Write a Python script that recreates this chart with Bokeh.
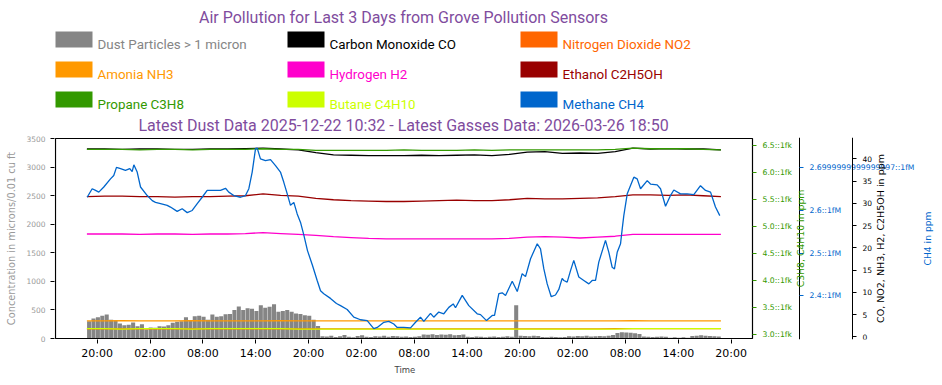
import math
from datetime import datetime, timedelta

from bokeh.plotting import figure
from bokeh.models import (Range1d, LinearAxis, FixedTicker, SingleIntervalTicker,
                          DatetimeTickFormatter, Title, Label)
from bokeh.layouts import column
from bokeh.embed import file_html
from bokeh.resources import INLINE
from bokeh.core.properties import value

# ---------------- data ----------------
title_text = "Air Pollution for Last 3 Days from Grove Pollution Sensors"
subtitle_text = "Latest Dust Data 2025-12-22 10:32 - Latest Gasses Data: 2026-03-26 18:50"

series_names = ["Dust Particles > 1 micron", "Carbon Monoxide CO", "Nitrogen Dioxide NO2",
                "Amonia NH3", "Hydrogen H2", "Ethanol C2H5OH",
                "Propane C3H8", "Butane C4H10", "Methane CH4"]
series_colors = ["#858585", "#000000", "#ff6600",
                 "#ff9900", "#ff00cc", "#990000",
                 "#339900", "#ccff00", "#0066cc"]

data_start = datetime(2026, 3, 23, 18, 50)
first_tick = datetime(2026, 3, 23, 20, 0)
tick_step_hours = 6
n_ticks = 13

# dust: 30-minute bins (hours since data_start of bin centre)
dust_hours = [0.25 + 0.5 * i for i in range(144)]
dust = [300, 350, 370, 400, 420, 330, 320, 262, 233, 240,
        280, 215, 250, 157, 192, 190, 215, 210, 230, 274,
        292, 300, 370, 320, 390, 400, 380, 330, 420, 380,
        390, 425, 430, 500, 560, 500, 530, 520, 480, 583,
        540, 554, 600, 467, 480, 500, 470, 437, 430, 408,
        400, 330, 220, 40,
        35, 50, 25, 40, 60, 30, 20, 45, 55, 30, 25, 40, 35, 50, 30, 45, 40,
        30, 35, 25, 30, 40,
        70, 65, 75,
        60, 70, 65, 75, 55, 60, 70,
        30, 25, 35, 30, 20, 30, 35, 25, 30, 40, 30,
        580,
        50, 45, 40, 50, 45,
        25, 20, 30, 25, 20, 25,
        40, 35, 45, 40, 50, 35, 40, 45, 40, 50, 60,
        95, 110, 105, 100, 90, 80,
        35, 30, 25, 30, 35, 30,
        15, 20, 15, 20, 15,
        45, 50, 55, 50, 45, 40, 35]

# gases sampled every 2 hours (hours since data_start)
gas_hours = list(range(0, 73, 2))
co = [42.2, 42.2, 42.1, 42.2, 42.2, 42.1, 42.1, 42.2, 42.2, 42.3,
      42.4, 42.2, 42.0, 41.4, 40.9, 40.8, 40.7, 40.7, 40.7, 40.8,
      40.7, 40.8, 40.9, 40.7, 41.0, 41.5, 41.6, 41.2, 41.3, 41.2,
      41.6, 42.4, 42.2, 42.3, 42.2, 42.2, 42.0]
no2 = [1.80, 1.80, 1.79, 1.80, 1.80, 1.80, 1.79, 1.80, 1.80, 1.80,
       1.80, 1.80, 1.80, 1.80, 1.80, 1.79, 1.80, 1.80, 1.80, 1.80,
       1.80, 1.80, 1.80, 1.80, 1.80, 1.80, 1.80, 1.80, 1.80, 1.80,
       1.82, 1.84, 1.85, 1.85, 1.84, 1.84, 1.83]
nh3 = [3.60, 3.60, 3.61, 3.60, 3.60, 3.60, 3.61, 3.60, 3.60, 3.60,
       3.60, 3.61, 3.60, 3.60, 3.59, 3.60, 3.60, 3.60, 3.60, 3.59,
       3.60, 3.60, 3.60, 3.60, 3.60, 3.60, 3.60, 3.60, 3.60, 3.60,
       3.60, 3.61, 3.60, 3.60, 3.60, 3.60, 3.60]
h2 = [23.1, 23.1, 23.1, 23.0, 23.1, 23.1, 23.0, 23.1, 23.1, 23.2,
      23.4, 23.2, 23.0, 22.8, 22.5, 22.3, 22.1, 22.0, 22.0, 22.0,
      22.0, 22.0, 22.0, 22.0, 22.1, 22.4, 22.5, 22.4, 22.2, 22.4,
      22.6, 23.0, 23.0, 23.0, 23.0, 23.0, 23.0]
ethanol = [31.5, 31.6, 31.6, 31.5, 31.5, 31.4, 31.5, 31.5, 31.6, 31.7,
           32.1, 31.8, 31.6, 31.1, 30.8, 30.6, 30.5, 30.4, 30.4, 30.5,
           30.6, 30.7, 30.6, 30.6, 30.8, 31.1, 31.0, 31.0, 31.1, 31.2,
           31.5, 31.9, 31.9, 31.8, 31.9, 31.7, 31.5]
propane = [6.43, 6.43, 6.43, 6.42, 6.43, 6.43, 6.42, 6.43, 6.43, 6.43,
           6.44, 6.43, 6.43, 6.41, 6.41, 6.41, 6.41, 6.41, 6.42, 6.41,
           6.41, 6.41, 6.42, 6.41, 6.42, 6.42, 6.42, 6.42, 6.42, 6.42,
           6.43, 6.45, 6.44, 6.44, 6.44, 6.43, 6.42]
butane = [3.11, 3.11, 3.10, 3.11, 3.11, 3.11, 3.10, 3.11, 3.11, 3.11,
          3.11, 3.11, 3.10, 3.10, 3.10, 3.10, 3.10, 3.10, 3.10, 3.10,
          3.10, 3.10, 3.10, 3.10, 3.10, 3.10, 3.10, 3.10, 3.10, 3.10,
          3.10, 3.11, 3.11, 3.11, 3.11, 3.11, 3.11]

ch4_hours = [0.03, 0.60, 0.98, 1.35, 1.92, 2.68, 3.05, 3.36, 3.82, 4.38,
             4.87, 5.14, 5.33, 5.71, 6.09, 6.85, 7.42, 7.79, 8.36, 9.12,
             9.49, 10.25, 10.82, 11.39, 11.96, 12.53, 13.09, 13.66, 14.41, 15.17,
             15.74, 16.11, 16.68, 17.44, 18.01, 18.39, 18.77, 19.15, 19.34, 19.71,
             20.28, 20.85, 21.42, 21.98, 22.36, 22.75, 23.12, 23.50, 23.88, 24.26,
             24.63, 25.05, 25.62, 26.15, 26.53, 26.90, 27.66, 28.34, 28.80, 29.56,
             30.31, 31.07, 31.83, 32.58, 32.97, 33.72, 34.28, 34.85, 35.24, 35.99,
             36.75, 37.32, 37.88, 38.26, 39.02, 39.39, 39.96, 40.53, 41.10, 41.60,
             41.86, 42.62, 43.37, 44.32, 44.70, 45.38, 46.03, 46.29, 46.78, 47.16,
             47.54, 48.30, 48.87, 49.43, 49.81, 50.38, 51.14, 51.51, 51.89, 52.27,
             52.73, 53.21, 53.59, 53.97, 54.16, 54.54, 54.92, 55.29, 55.86, 56.43,
             57.00, 57.38, 57.76, 58.13, 58.89, 59.27, 59.65, 59.91, 60.22, 60.60,
             60.79, 60.97, 61.36, 62.11, 62.49, 62.87, 63.63, 64.00, 64.76, 65.14,
             65.71, 66.27, 66.65, 67.41, 68.17, 68.92, 69.68, 70.25, 70.82, 71.38,
             71.87]
ch4 = [2.631, 2.651, 2.647, 2.643, 2.655, 2.674, 2.682, 2.701, 2.698, 2.694,
       2.698, 2.691, 2.707, 2.690, 2.655, 2.635, 2.623, 2.619, 2.616, 2.612,
       2.608, 2.598, 2.604, 2.595, 2.600, 2.616, 2.631, 2.647, 2.647, 2.647,
       2.652, 2.643, 2.635, 2.631, 2.635, 2.651, 2.690, 2.745, 2.746, 2.721,
       2.717, 2.719, 2.705, 2.690, 2.666, 2.639, 2.612, 2.619, 2.592, 2.572,
       2.543, 2.506, 2.471, 2.436, 2.412, 2.405, 2.394, 2.382, 2.377, 2.368,
       2.350, 2.344, 2.342, 2.323, 2.326, 2.338, 2.340, 2.334, 2.326, 2.326,
       2.325, 2.338, 2.350, 2.340, 2.359, 2.350, 2.362, 2.358, 2.373, 2.381,
       2.372, 2.401, 2.377, 2.358, 2.356, 2.342, 2.354, 2.354, 2.405, 2.407,
       2.401, 2.434, 2.410, 2.452, 2.445, 2.487, 2.522, 2.510, 2.463, 2.428,
       2.398, 2.402, 2.415, 2.441, 2.436, 2.432, 2.459, 2.483, 2.444, 2.436,
       2.428, 2.436, 2.436, 2.479, 2.530, 2.502, 2.467, 2.463, 2.502, 2.522,
       2.557, 2.588, 2.639, 2.678, 2.674, 2.651, 2.670, 2.662, 2.660, 2.651,
       2.610, 2.635, 2.648, 2.639, 2.639, 2.637, 2.658, 2.647, 2.643, 2.608,
       2.588]

left_ticks_interval = 500
green_ticks = [3.0, 3.5, 4.0, 4.5, 5.0, 5.5, 6.0, 6.5]
green_labels = ["3.0::1fk", "3.5::1fk", "4.0::1fk", "4.5::1fk",
                "5.0::1fk", "5.5::1fk", "6.0::1fk", "6.5::1fk"]
blue_ticks = [2.4, 2.5, 2.6, 2.7]
blue_labels = ["2.4::1fM", "2.5::1fM", "2.6::1fM", "2.6999999999999997::1fM"]
black_ticks = [0, 5, 10, 15, 20, 25, 30, 35, 40]

green_axis_title = "C3H8, C4H10 in ppm"
blue_axis_title = "CH4 in ppm"
black_axis_title = "CO, NO2, NH3, H2, C2H5OH in ppm"

# ---------------- helpers ----------------
EPOCH = datetime(1970, 1, 1)


def ms(dt):
    return (dt - EPOCH).total_seconds() * 1000.0


def t(h):
    return data_start + timedelta(hours=h)


# ---------------- layout constants (pixels) ----------------
W = 942
TOP_H = 134
FRAME_L, FRAME_R = 54, 940          # plotting frame (extended to hold right axes)
BOX_L, BOX_R = 55, 752              # visible data box
BLUE_X, BLACK_X = 799, 852          # extra axis spines
PX_PER_HOUR = 8.806
DATA_X0 = 86.4                      # pixel of data_start
PURPLE = "#7f4c9e"


def px_time(px):
    return t((px - DATA_X0) / PX_PER_HOUR)


# ---------------- top figure: title + legend + subtitle ----------------
top = figure(width=W, height=TOP_H, x_range=Range1d(FRAME_L, FRAME_R),
             y_range=Range1d(TOP_H, 0),
             x_axis_type=None, y_axis_type=None, output_backend="svg",
             toolbar_location=None, min_border_left=FRAME_L,
             min_border_right=W - FRAME_R, min_border_top=0, min_border_bottom=0,
             outline_line_color=None)
top.grid.visible = False

top.text(x=[403], y=[16.5], text=[title_text], text_align="center",
         text_baseline="middle", text_font=value("Roboto"), text_font_size="16px",
         text_color=PURPLE)
top.text(x=[403], y=[124.5], text=[subtitle_text], text_align="center",
         text_baseline="middle", text_font=value("Roboto"), text_font_size="16px",
         text_color=PURPLE)

col_x = [55, 287, 520]
row_y = [31, 61, 91]
sq_left, sq_right, sq_top, sq_bot, tx, ty = [], [], [], [], [], []
for i, name in enumerate(series_names):
    c, r = i % 3, i // 3
    sq_left.append(col_x[c])
    sq_right.append(col_x[c] + 37)
    sq_top.append(row_y[r])
    sq_bot.append(row_y[r] + 16)
    tx.append(col_x[c] + 42)
    ty.append(row_y[r] + 13)
top.quad(left=sq_left, right=sq_right, top=sq_top, bottom=sq_bot,
         fill_color=series_colors, line_color=None)
top.text(x=tx, y=ty, text=series_names, text_color=series_colors,
         text_align="left", text_baseline="middle", text_font=value("Roboto"),
         text_font_size="13.4px")

# ---------------- main figure ----------------
p = figure(width=W, height=3 + 202 + 45, x_axis_type="datetime",
           x_range=Range1d(px_time(FRAME_L), px_time(FRAME_R)),
           y_range=Range1d(-17.5, 3517.5),
           output_backend="svg", toolbar_location=None,
           min_border_left=FRAME_L, min_border_right=W - FRAME_R,
           min_border_top=3, min_border_bottom=45)
p.grid.visible = False
p.outline_line_color = None

p.extra_y_ranges = {
    "green": Range1d(2.9075, 6.6485),
    "blue": Range1d(2.2977, 2.7710),
    "black": Range1d(-0.607, 44.785),
}

# dust bars
p.vbar(x=[t(h) for h in dust_hours], top=dust, bottom=0,
       width=0.5 * 3600 * 1000 * 0.92, fill_color=series_colors[0], line_color=None)

gx = [t(h) for h in gas_hours]
lw = 1.3
p.line(gx, co, y_range_name="black", line_color=series_colors[1], line_width=lw)
p.line(gx, no2, y_range_name="black", line_color=series_colors[2], line_width=lw)
p.line(gx, nh3, y_range_name="black", line_color=series_colors[3], line_width=lw)
p.line(gx, h2, y_range_name="black", line_color=series_colors[4], line_width=lw)
p.line(gx, ethanol, y_range_name="black", line_color=series_colors[5], line_width=lw)
p.line(gx, propane, y_range_name="green", line_color=series_colors[6], line_width=lw)
p.line(gx, butane, y_range_name="green", line_color=series_colors[7], line_width=lw)
p.line([t(h) for h in ch4_hours], ch4, y_range_name="blue",
       line_color=series_colors[8], line_width=lw)

# axes box
p.quad(left=[px_time(BOX_L)], right=[px_time(BOX_R)], bottom=[0], top=[3500],
       fill_color=None, line_color="black", line_width=1.2)

# x axis
xticks = [ms(first_tick + timedelta(hours=tick_step_hours * k)) for k in range(n_ticks)]
xa = p.xaxis[0]
xa.ticker = FixedTicker(ticks=xticks)
fmt = "%H:%M"
xa.formatter = DatetimeTickFormatter(microseconds=fmt, milliseconds=fmt, seconds=fmt,
                                     minsec=fmt, minutes=fmt, hourmin=fmt, hours=fmt,
                                     days=fmt, months=fmt, years=fmt,
                                     strip_leading_zeros=False)
xa.major_label_text_font = "DejaVu Sans"
xa.major_label_text_font_size = "11px"
xa.major_label_text_color = "black"
xa.major_tick_out = 4
xa.major_tick_in = 0
xa.minor_tick_line_color = None
xa.major_label_standoff = 3
xa.axis_line_color = None

p.add_layout(Title(text="Time", align="left", offset=394 - FRAME_L,
                   text_font="DejaVu Sans", text_font_size="8.5px",
                   text_font_style="normal", standoff=1), "below")

# left axis
ya = p.yaxis[0]
ya.ticker = SingleIntervalTicker(interval=left_ticks_interval, num_minor_ticks=0)
ya.major_label_text_font = "DejaVu Sans"
ya.major_label_text_font_size = "7.5px"
ya.major_label_text_color = "#999999"
ya.major_tick_out = 4
ya.major_tick_in = 0
ya.minor_tick_line_color = None
ya.major_label_standoff = 5
ya.axis_line_color = None
ya.axis_label = "Concentration in microns/0.01 cu ft"
ya.axis_label_text_font = "DejaVu Sans"
ya.axis_label_text_font_size = "9.8px"
ya.axis_label_text_font_style = "normal"
ya.axis_label_text_color = "#999999"
ya.axis_label_standoff = 6


def style_right(ax, color, tick_size, line_color):
    ax.major_label_text_font = "DejaVu Sans"
    ax.major_label_text_font_size = tick_size
    ax.major_label_text_color = color
    ax.major_tick_line_color = color
    ax.major_tick_out = 4
    ax.major_tick_in = 0
    ax.minor_tick_line_color = None
    ax.major_label_standoff = 6
    ax.axis_line_color = line_color


def axis_title(text, px, color, size):
    p.add_layout(Label(x=ms(px_time(px)), y=1750, text=text, angle=math.pi / 2,
                       text_align="center", text_baseline="middle",
                       text_font="DejaVu Sans", text_font_size=size,
                       text_color=color))


green_axis = LinearAxis(y_range_name="green", ticker=FixedTicker(ticks=green_ticks),
                        major_label_overrides=dict(zip(green_ticks, green_labels)),
                        fixed_location=ms(px_time(BOX_R)))
style_right(green_axis, "#339900", "7.7px", None)
p.add_layout(green_axis, "right")

blue_axis = LinearAxis(y_range_name="blue", ticker=FixedTicker(ticks=blue_ticks),
                       major_label_overrides=dict(zip(blue_ticks, blue_labels)),
                       fixed_location=ms(px_time(BLUE_X)))
style_right(blue_axis, "#0066cc", "7.7px", "black")
p.add_layout(blue_axis, "right")

black_axis = LinearAxis(y_range_name="black", ticker=FixedTicker(ticks=black_ticks),
                        fixed_location=ms(px_time(BLACK_X)))
style_right(black_axis, "black", "7.5px", "black")
p.add_layout(black_axis, "right")

axis_title(green_axis_title, 800, "#339900", "9.3px")
axis_title(black_axis_title, 880, "black", "9.5px")
axis_title(blue_axis_title, 927, "#0066cc", "9.2px")

layout = column(top, p)
open("out.html", "w").write(file_html(layout, INLINE))
